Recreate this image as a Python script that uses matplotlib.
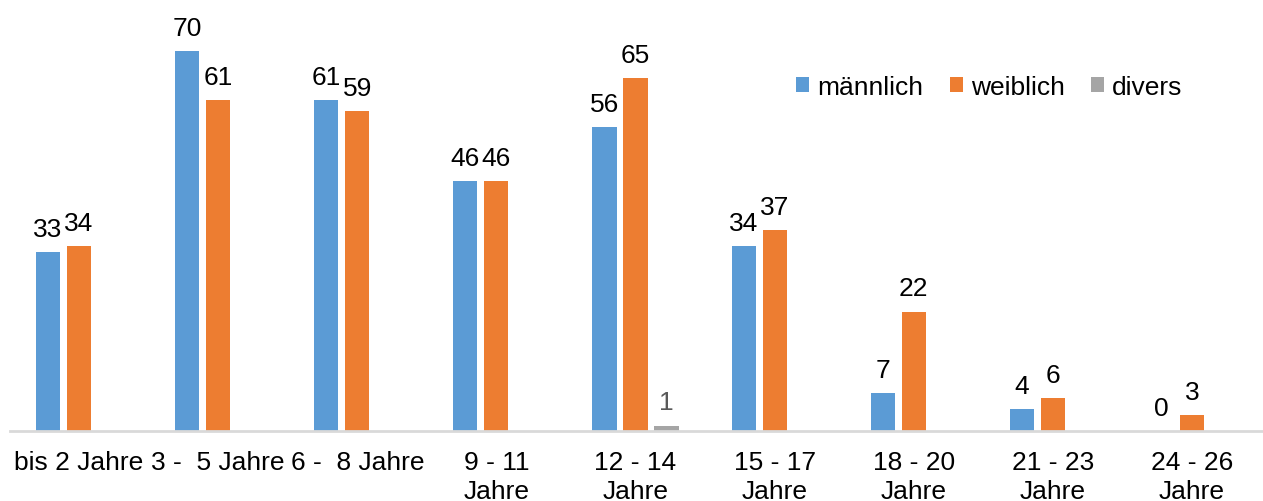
import numpy as np
import matplotlib
matplotlib.use("Agg")
import matplotlib.pyplot as plt

plt.rcParams['font.family'] = ['Liberation Sans', 'DejaVu Sans']

categories = ["bis 2 Jahre", "3 -  5 Jahre", "6 -  8 Jahre", "9 - 11\nJahre", "12 - 14\nJahre",
              "15 - 17\nJahre", "18 - 20\nJahre", "21 - 23\nJahre", "24 - 26\nJahre"]
maennlich = [33, 70, 61, 46, 56, 34, 7, 4, 0]
weiblich = [34, 61, 59, 46, 65, 37, 22, 6, 3]
divers = [np.nan, np.nan, np.nan, np.nan, 1, np.nan, np.nan, np.nan, np.nan]

fig = plt.figure(figsize=(12.63, 5.02), dpi=100)
ax = fig.add_axes([9.5 / 1263, 70 / 502, 1252 / 1263, 1 - 70 / 502])

x = np.arange(len(categories))
w = 0.173
step = 0.223
b1 = ax.bar(x - step, maennlich, w, color='#5B9BD5', label='männlich')
b2 = ax.bar(x, weiblich, w, color='#ED7D31', label='weiblich')
b3 = ax.bar(x + step, divers, w, color='#A5A5A5', label='divers')

fs = 19
ax.bar_label(b1, padding=8, fontsize=fs, color='#000000')
ax.bar_label(b2, padding=8, fontsize=fs, color='#000000')
ax.bar_label(b3, labels=['' if np.isnan(v) else '%d' % v for v in divers],
             padding=8, fontsize=fs, color='#595959')

ax.set_xlim(-0.5, len(categories) - 0.5)
ax.set_ylim(0, 79.6)
ax.set_xticks(x)
ax.set_xticklabels(categories, fontsize=fs, linespacing=1.25)
ax.tick_params(axis='x', length=0, pad=14)
ax.set_yticks([])
for s in ['top', 'right', 'left']:
    ax.spines[s].set_visible(False)
ax.spines['bottom'].set_color('#D9D9D9')
ax.spines['bottom'].set_linewidth(2)

ax.legend(loc='center left', bbox_to_anchor=(796 / 1263, 1 - 88 / 502), bbox_transform=fig.transFigure,
          ncol=3, frameon=False, fontsize=fs, handlelength=0.5, handleheight=0.5, handletextpad=0.3,
          columnspacing=1.0, borderaxespad=0, borderpad=0)

fig.savefig('out.png', dpi=100)
